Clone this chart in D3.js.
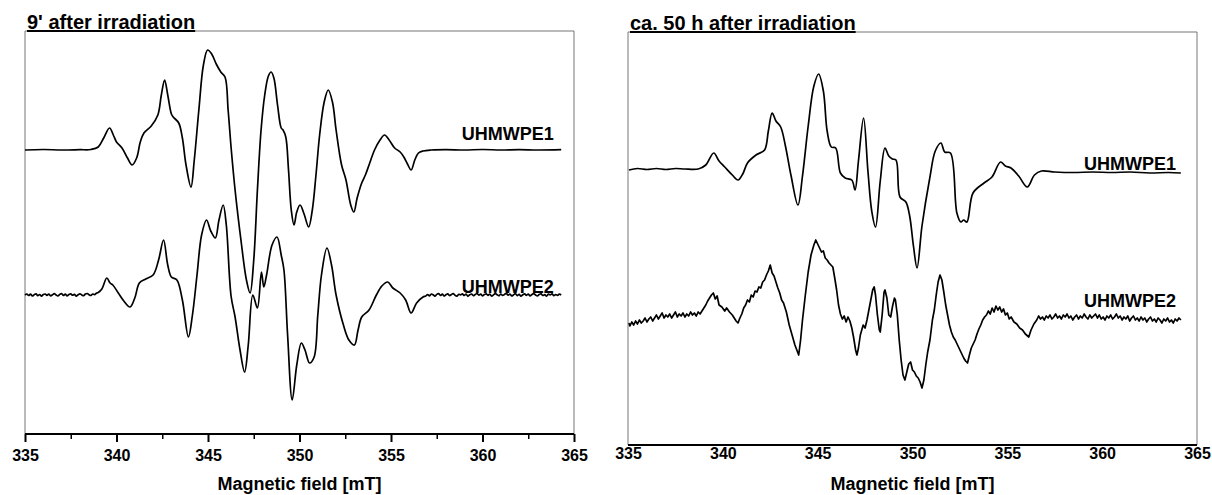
<!DOCTYPE html>
<html>
<head>
<meta charset="utf-8">
<script src="https://cdn.jsdelivr.net/npm/d3@7"></script>
<style>
  body { margin: 0; background: #fff; }
  svg { display: block; font-family: "Liberation Sans", Arial, sans-serif; }
</style>
</head>
<body>
<svg id="chart" width="1212" height="495"></svg>
<script>
// ---- data (field in mT, signal in a.u. relative to each spectrum's own baseline) ----
const fieldTicks = [335, 340, 345, 350, 355, 360, 365];
const minorTicks = [337.5, 342.5, 347.5, 352.5, 357.5, 362.5];
const seriesNames = ["UHMWPE1", "UHMWPE2"];
const panelTitles = ["9' after irradiation", "ca. 50 h after irradiation"];
const xLabel = "Magnetic field  [mT]";

// vertical stacking offset of the two spectra in each panel (a.u.)
const stackLeft = [284, 139];
const stackRight = [274, 125];

// 9' after irradiation, UHMWPE1
const left1 = [
  [335.0, 0], [336.0, 0.5], [337.0, 0], [338.0, 0.3], [338.6, 0.5], [339.0, 3], [339.3, 12],
  [339.62, 22], [339.85, 14], [340.0, 8], [340.3, 2], [340.6, -8], [340.85, -15], [341.1, -8],
  [341.3, 8], [341.5, 17], [341.9, 24], [342.26, 35], [342.45, 55], [342.63, 70], [342.8, 55],
  [343.0, 36], [343.1, 33], [343.4, 27], [343.6, 12], [343.8, -15], [344.07, -37], [344.25, -10],
  [344.5, 40], [344.75, 85], [344.98, 100], [345.2, 96], [345.45, 86], [345.7, 78], [345.93, 73],
  [346.1, 40], [346.25, 5], [346.48, -40], [346.8, -90], [347.1, -130], [347.3, -143], [347.5, -110],
  [347.7, -40], [347.9, 20], [348.1, 55], [348.3, 74], [348.45, 78], [348.6, 72], [348.8, 45],
  [349.0, 22], [349.1, 20], [349.25, 13], [349.4, -20], [349.55, -60], [349.7, -75], [349.85, -62],
  [350.03, -55], [350.25, -64], [350.5, -77], [350.7, -60], [350.9, -25], [351.1, 15], [351.35, 48],
  [351.57, 60], [351.8, 48], [352.0, 20], [352.3, -15], [352.54, -30], [352.8, -55], [352.97, -62],
  [353.15, -48], [353.4, -33], [353.6, -25], [353.8, -15], [354.1, 0], [354.4, 10], [354.65, 15],
  [354.9, 10], [355.2, 2], [355.5, -2], [355.7, -7], [355.9, -14], [356.1, -20], [356.3, -10],
  [356.5, -3], [356.75, -1], [357.2, 0], [358.0, 0.4], [359.0, 0], [360.0, 0.5], [361.0, 0],
  [362.0, 0.4], [363.0, 0], [364.3, 0.3]
];

// 9' after irradiation, UHMWPE2 (slightly noisy baseline)
const left2 = [
  [335.0, 0], [335.1, 1], [335.2, -0.5], [335.3, 0.8], [335.4, -1], [335.5, 0.3], [335.6, 1.2],
  [335.7, -0.6], [335.8, 0.5], [335.9, -1.2], [336.0, 0.4], [336.1, 1], [336.2, -0.3], [336.3, 0.9],
  [336.4, -0.8], [336.5, 0.2], [336.6, 1.3], [336.7, 0], [336.8, -1], [336.9, 0.6], [337.0, 1.4],
  [337.1, -0.4], [337.2, 0.8], [337.3, -0.9], [337.4, 0.5], [337.5, 1.1], [337.6, -0.2], [337.7, 0.7],
  [337.8, -1.1], [337.9, 0.3], [338.0, 1.2], [338.1, 0.1], [338.2, -0.7], [338.3, 0.9], [338.4, 1.5],
  [338.5, 0.2], [338.6, -0.5], [338.7, 1], [338.8, 0.4], [338.9, 1.8], [339.0, 2.5],
  [339.2, 6], [339.47, 17], [339.65, 12], [339.8, 10], [340.1, 2], [340.4, -6], [340.74, -12],
  [341.0, -3], [341.25, 12], [341.6, 16], [342.0, 20], [342.3, 35], [342.57, 55], [342.8, 30],
  [343.0, 18], [343.3, 15], [343.6, -5], [343.93, -42], [344.15, -20], [344.4, 20], [344.65, 60],
  [344.92, 75], [345.15, 64], [345.4, 57], [345.6, 75], [345.83, 90], [346.0, 70], [346.26, -1],
  [346.48, -22], [346.75, -55], [347.0, -77], [347.2, -50], [347.45, 0], [347.7, -13], [347.92, 23],
  [348.05, 8], [348.2, 20], [348.5, 50], [348.77, 58], [349.0, 40], [349.15, 25], [349.35, -40],
  [349.6, -105], [349.85, -70], [350.1, -48], [350.3, -55], [350.55, -68], [350.8, -62], [351.0, -20],
  [351.2, 20], [351.5, 47], [351.75, 30], [352.0, 0], [352.4, -30], [352.7, -45], [353.0, -50],
  [353.2, -35], [353.4, -22], [353.8, -15], [354.2, 0], [354.5, 9], [354.82, 13], [355.1, 7],
  [355.5, 2], [355.8, -5], [356.1, -18], [356.4, -8], [356.75, -2],
  [356.9, -1], [357.0, 0.5], [357.1, -0.8], [357.2, 1], [357.3, 0.2], [357.4, -1.2], [357.5, 0.6],
  [357.6, 1.3], [357.7, -0.4], [357.8, 0.8], [357.9, -1], [358.0, 0.3], [358.1, 1.1], [358.2, -0.6],
  [358.3, 0.4], [358.4, 1.4], [358.5, -0.2], [358.6, -1.1], [358.7, 0.7], [358.8, 0.1], [358.9, 1.2],
  [359.0, -0.5], [359.1, 0.9], [359.2, -1.3], [359.3, 0.2], [359.4, 1], [359.5, -0.7], [359.6, 0.5],
  [359.7, 1.5], [359.8, -0.1], [359.9, 0.8], [360.0, -0.9], [360.1, 0.4], [360.2, 1.2], [360.3, -0.3],
  [360.4, 0.9], [360.5, -1.2], [360.6, 0.1], [360.7, 1.4], [360.8, 0.3], [360.9, -0.8], [361.0, 1],
  [361.1, -0.4], [361.2, 0.6], [361.3, 1.6], [361.4, -0.2], [361.5, 0.9], [361.6, -1], [361.7, 0.3],
  [361.8, 1.3], [361.9, -0.6], [362.0, 0.7], [362.1, -1.1], [362.2, 0.2], [362.3, 1.1], [362.4, -0.3],
  [362.5, 0.8], [362.6, -0.9], [362.7, 0.5], [362.8, 1.4], [362.9, 0], [363.0, -1], [363.1, 0.6],
  [363.2, 1.2], [363.3, -0.5], [363.4, 0.4], [363.5, -1.2], [363.6, 0.9], [363.7, 0.2], [363.8, 1.1],
  [363.9, -0.7], [364.0, 0.5], [364.1, -0.3], [364.2, 0.8], [364.3, 0]
];

// ca. 50 h after irradiation, UHMWPE1
const right1 = [
  [335.05, 1], [335.5, 2.5], [336.0, 1.5], [336.5, 2.5], [337.0, 1.5], [337.5, 2.5], [338.0, 2],
  [338.7, 2], [339.1, 6], [339.52, 18],
  [339.8, 10], [340.1, 4], [340.5, -4], [340.8, -9], [341.05, -3], [341.3, 8], [341.75, 16],
  [342.2, 21], [342.4, 40], [342.6, 58], [342.8, 50], [343.05, 44], [343.3, 25], [343.6, -5],
  [343.96, -34], [344.2, -5], [344.5, 45], [344.8, 85], [345.05, 97], [345.3, 80], [345.5, 40],
  [345.72, 24], [345.95, 23], [346.2, -2], [346.45, -7], [346.8, -9], [346.97, -19], [347.15, 10],
  [347.42, 53], [347.65, 0], [347.85, -40], [348.05, -56], [348.3, -10], [348.55, 23], [348.75, 15],
  [348.94, 12], [349.13, 11], [349.34, -26], [349.65, -31], [349.85, -45], [350.05, -75],
  [350.24, -97], [350.5, -55], [350.92, -6], [351.2, 20], [351.5, 28], [351.7, 19], [352.0, 18],
  [352.34, -42], [352.55, -51], [352.7, -49], [352.87, -51], [353.19, -22], [353.77, -12],
  [354.19, -6], [354.64, 9], [354.9, 5], [355.19, 3], [355.6, -5], [356.05, -16], [356.43, -4],
  [356.8, 0], [357.5, -1], [358.5, -1.5], [359.5, -1], [360.5, -1.5], [361.5, -1], [362.5, -2],
  [363.5, -1.5], [364.15, -2]
];

// ca. 50 h after irradiation, UHMWPE2 (noisy)
const right2 = [
  [335.05, -3], [335.1, -6], [335.2, -2], [335.3, -5], [335.4, -1], [335.5, -4], [335.6, 0],
  [335.7, -3], [335.8, -1], [335.9, 2], [336.0, -2], [336.1, 1], [336.2, 3], [336.3, -1],
  [336.4, 2], [336.5, 5], [336.6, 1], [336.7, 4], [336.8, 7], [336.9, 2], [337.0, 5],
  [337.1, 3], [337.2, 6], [337.3, 2], [337.4, 5], [337.5, 8], [337.6, 3], [337.7, 6],
  [337.8, 4], [337.9, 7], [338.0, 3], [338.1, 6], [338.2, 4], [338.3, 8], [338.4, 5],
  [338.5, 7], [338.6, 4], [338.7, 8], [338.8, 6], [338.9, 9], [339.0, 12], [339.1, 15],
  [339.2, 19], [339.3, 22], [339.4, 25], [339.5, 27], [339.6, 21], [339.7, 24], [339.8, 15],
  [339.95, 13], [340.1, 9], [340.2, 12], [340.35, 8], [340.5, 5], [340.6, 2], [340.7, -1],
  [340.8, -3], [340.9, 2], [341.0, 6], [341.1, 12], [341.2, 15], [341.3, 20], [341.4, 18],
  [341.5, 25], [341.6, 23], [341.7, 29], [341.8, 28], [341.9, 33], [342.0, 32], [342.1, 38],
  [342.2, 40], [342.3, 45], [342.4, 49], [342.5, 55], [342.6, 47], [342.7, 44], [342.8, 38],
  [342.9, 32], [343.0, 27], [343.1, 20], [343.2, 17], [343.35, 8], [343.5, -5], [343.65, -15],
  [343.8, -25], [343.9, -30], [344.0, -35], [344.1, -20], [344.2, 0], [344.35, 25], [344.5, 48],
  [344.65, 65], [344.8, 75], [344.9, 80], [345.0, 76], [345.1, 72], [345.2, 68], [345.3, 69],
  [345.4, 62], [345.5, 60], [345.6, 57], [345.7, 55], [345.8, 53], [345.9, 42], [346.0, 30],
  [346.1, 15], [346.2, 6], [346.3, 1], [346.4, 4], [346.5, -2], [346.6, 3], [346.7, -1],
  [346.8, -8], [346.9, -18], [347.0, -30], [347.07, -35], [347.15, -28], [347.25, -15],
  [347.4, -5], [347.5, -8], [347.6, 0], [347.7, 10], [347.8, 20], [347.9, 30], [347.98, 33],
  [348.05, 25], [348.15, 5], [348.25, -10], [348.3, -12], [348.4, 5], [348.5, 28], [348.55, 30],
  [348.65, 22], [348.75, 5], [348.85, 3], [348.95, 14], [349.05, 22], [349.1, 20], [349.2, 5],
  [349.3, -20], [349.4, -40], [349.5, -55], [349.6, -60], [349.7, -52], [349.8, -44], [349.9, -42],
  [350.0, -50], [350.1, -52], [350.2, -56], [350.3, -58], [350.4, -62], [350.5, -68], [350.6, -60],
  [350.7, -45], [350.8, -32], [350.92, -20], [351.05, 0], [351.15, 10], [351.25, 25], [351.35, 38],
  [351.45, 45], [351.55, 40], [351.65, 28], [351.75, 15], [351.85, 5], [351.95, -5], [352.05, -12],
  [352.15, -17], [352.25, -20], [352.4, -26], [352.55, -32], [352.7, -38], [352.8, -41],
  [352.9, -43], [353.0, -35], [353.1, -28], [353.2, -24], [353.3, -20], [353.4, -14], [353.5, -9],
  [353.6, -5], [353.7, 0], [353.8, 3], [353.9, 5], [354.0, 9], [354.1, 6], [354.2, 12], [354.3, 8],
  [354.4, 14], [354.5, 10], [354.6, 13], [354.7, 8], [354.8, 11], [354.9, 5], [355.0, 7],
  [355.1, 1], [355.2, 3], [355.35, -2], [355.5, -4], [355.65, -8], [355.8, -10], [355.95, -14],
  [356.13, -17], [356.25, -10], [356.4, -4], [356.55, 0], [356.65, 4], [356.75, 1], [356.85, 3],
  [356.95, 0], [357.05, 4], [357.15, 2], [357.25, 5], [357.35, 1], [357.45, 3], [357.55, 6],
  [357.65, 2], [357.75, 4], [357.85, 1], [357.95, 5], [358.05, 3], [358.15, 6], [358.25, 2],
  [358.35, 4], [358.45, 0], [358.55, 3], [358.65, 5], [358.75, 1], [358.85, 4], [358.95, 2],
  [359.05, 6], [359.15, 3], [359.25, 1], [359.35, 5], [359.45, 2], [359.55, 4], [359.65, 6],
  [359.75, 2], [359.85, 5], [359.95, 1], [360.05, 3], [360.15, 0], [360.25, 4], [360.35, 2],
  [360.45, 5], [360.55, 1], [360.65, 3], [360.75, 6], [360.85, 2], [360.95, 4], [361.05, 0],
  [361.15, 3], [361.25, 1], [361.35, 4], [361.45, -1], [361.55, 2], [361.65, 4], [361.75, 0],
  [361.85, 2], [361.95, -1], [362.05, 3], [362.15, 0], [362.25, 2], [362.35, -2], [362.45, 1],
  [362.55, 3], [362.65, -1], [362.75, 1], [362.85, -2], [362.95, 2], [363.05, 0], [363.15, -3],
  [363.25, 1], [363.35, -1], [363.45, 2], [363.55, -2], [363.65, 0], [363.75, -3], [363.85, 1],
  [363.95, -1], [364.05, 2], [364.15, 0]
];

// ---- drawing ----
const svg = d3.select('#chart');

const panels = [
  { title: panelTitles[0], box: { left: 25, right: 574, top: 31, bottom: 434 },
    series: [left1, left2], stack: stackLeft, curve: [d3.curveCatmullRom, d3.curveCatmullRom],
    ticks: true, labelDy: [-10, -2], labelEnd: 363.9, tickLabelY: 27 },
  { title: panelTitles[1], box: { left: 628, right: 1197, top: 32, bottom: 445 },
    series: [right1, right2], stack: stackRight, curve: [d3.curveCatmullRom, d3.curveLinear],
    ticks: false, labelDy: [-1, -13], labelEnd: 363.9, tickLabelY: 14 }
];

panels.forEach(function (p) {
  const b = p.box;
  const xScale = d3.scaleLinear().domain([335, 365]).range([b.left, b.right]);
  const yScale = d3.scaleLinear().domain([0, b.bottom - b.top]).range([b.bottom, b.top]);

  const g = svg.append('g');

  // frame (top, left, right) thin grey
  g.append('path')
    .attr('d', `M${b.left},${b.bottom} V${b.top} H${b.right} V${b.bottom}`)
    .attr('fill', 'none')
    .attr('stroke', '#777')
    .attr('stroke-width', 1);

  // bottom axis
  const xAxis = d3.axisBottom(xScale)
    .tickValues(fieldTicks)
    .tickSize(p.ticks ? 8 : 0)
    .tickPadding(0)
    .tickFormat(d3.format('d'));

  const xAxisG = g.append('g')
    .attr('transform', `translate(0,${b.bottom})`)
    .call(xAxis);
  xAxisG.select('.domain')
    .attr('stroke', '#000')
    .attr('stroke-width', 2.2)
    .attr('d', `M${b.left},0H${b.right}`);
  xAxisG.selectAll('.tick line').attr('stroke', '#000').attr('stroke-width', 2);
  xAxisG.selectAll('.tick text')
    .attr('y', p.tickLabelY)
    .attr('dy', 0)
    .attr('fill', '#000')
    .style('font-size', '16px')
    .style('font-weight', 'bold')
    .style('font-family', '"Liberation Sans", Arial, sans-serif');

  if (p.ticks) {
    const minorAxis = d3.axisBottom(xScale)
      .tickValues(minorTicks)
      .tickSize(5)
      .tickFormat('');
    const mG = g.append('g')
      .attr('transform', `translate(0,${b.bottom})`)
      .call(minorAxis);
    mG.select('.domain').remove();
    mG.selectAll('.tick line').attr('stroke', '#000').attr('stroke-width', 1.5);
  }

  // axis title
  g.append('text')
    .attr('x', (b.left + b.right) / 2)
    .attr('y', 490)
    .attr('text-anchor', 'middle')
    .style('font-size', '18px')
    .style('font-weight', 'bold')
    .text(xLabel);

  // panel title (underlined)
  g.append('text')
    .attr('x', b.left + 2)
    .attr('y', b.top - 2)
    .style('font-size', '20px')
    .style('font-weight', 'bold')
    .style('text-decoration', 'underline')
    .text(p.title);

  // spectra
  p.series.forEach(function (data, i) {
    const line = d3.line()
      .x(function (d) { return xScale(d[0]); })
      .y(function (d) { return yScale(p.stack[i] + d[1]); })
      .curve(p.curve[i]);

    g.append('path')
      .datum(data)
      .attr('fill', 'none')
      .attr('stroke', '#000')
      .attr('stroke-width', 1.7)
      .attr('stroke-linejoin', 'round')
      .attr('d', line);

    g.append('text')
      .attr('x', xScale(p.labelEnd))
      .attr('y', yScale(p.stack[i]) + p.labelDy[i])
      .attr('text-anchor', 'end')
      .style('font-size', '18px')
      .style('font-weight', 'bold')
      .text(seriesNames[i]);
  });
});
</script>
</body>
</html>
